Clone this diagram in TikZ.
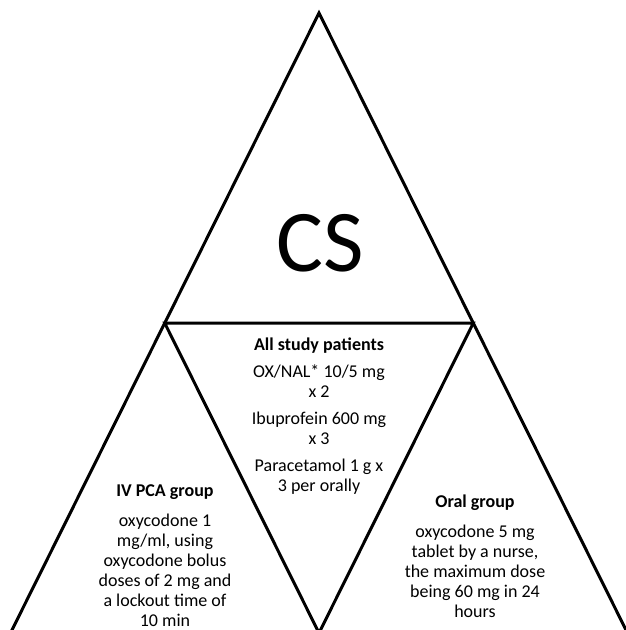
\documentclass[tikz,border=0pt]{standalone}
\usepackage{fontspec}
\setmainfont{Carlito}

\begin{document}
\begin{tikzpicture}
[x=1pt,y=-1pt,
  lineDecorate/.style={-,line width=3pt,line join=miter},%
  textDecorate/.style={align=center,inner sep=0pt,font=\fontsize{18}{20}\selectfont}]
\useasboundingbox (0,0) rectangle (626,630);
\clip (0,0) rectangle (626,630);
%% corners of the triangles
\foreach \pointname/\x/\y in {
  top/319/13, bl/10.5/633, br/627.5/633,
  ml/164.7/323, mr/473.3/323, mb/319/633}
{
  \coordinate (\pointname) at (\x,\y);
}
%% edges
\draw[lineDecorate] (bl) -- (top) -- (br);
\draw[lineDecorate] (ml) -- (mr) -- (mb) -- cycle;
%% texts
\node (cs) at (320,243) [font=\fontsize{88}{90}\selectfont] {CS};
\node (all) at (319,416) [textDecorate]
  {\textbf{All study patients}\\[7pt]
   OX/NAL* 10/5 mg\\ x 2\\[7pt]
   Ibuprofein 600 mg\\ x 3\\[7pt]
   Paracetamol 1 g x\\ 3 per orally};
\node (ivpca) at (165,556) [textDecorate]
  {\textbf{IV PCA group}\\[10pt]
   oxycodone 1\\ mg/ml, using\\ oxycodone bolus\\
   doses of 2 mg and\\ a lockout time of\\ 10 min};
\node (oral) at (475,556) [textDecorate]
  {\textbf{Oral group}\\[10pt]
   oxycodone 5 mg\\ tablet by a nurse,\\ the maximum dose\\
   being 60 mg in 24\\ hours};
\end{tikzpicture}
\end{document}
